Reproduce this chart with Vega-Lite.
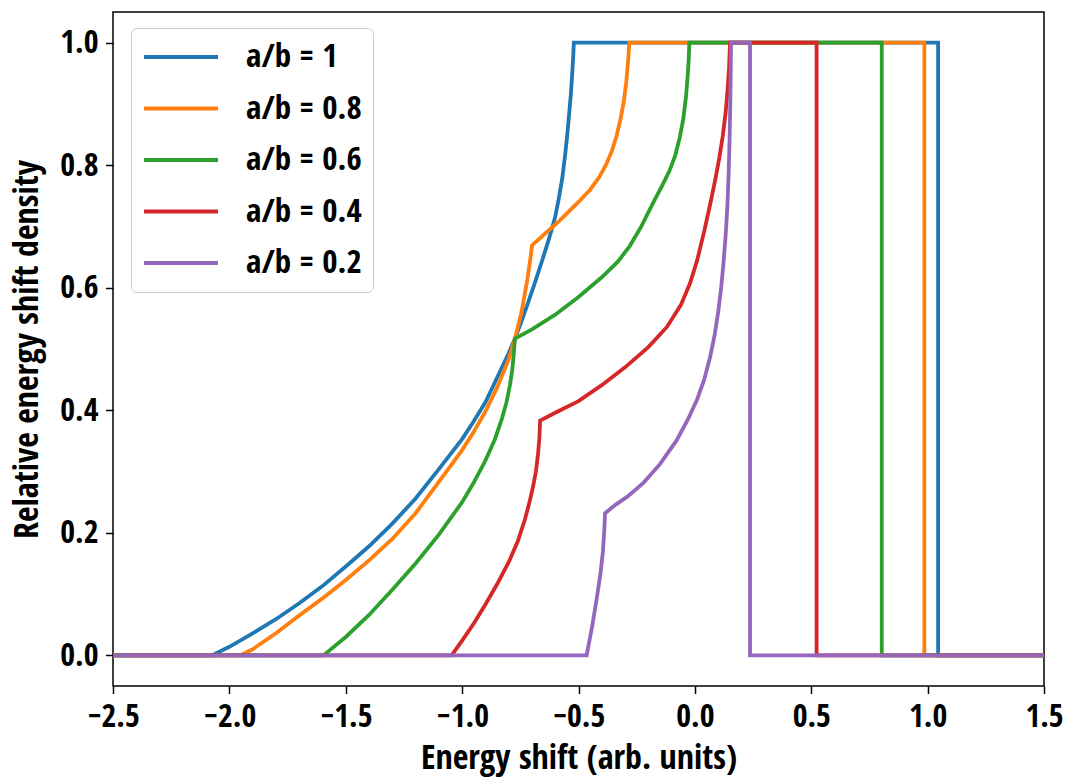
{
  "$schema": "https://vega.github.io/schema/vega-lite/v6.json",
  "width": 931,
  "height": 674,
  "autosize": {"type": "none"},
  "padding": {"left": 113, "top": 12, "right": 23, "bottom": 94},
  "background": "white",
  "config": {
    "font": "'Open Sans Condensed', 'DejaVu Sans Condensed', 'Open Sans', sans-serif",
    "view": {"stroke": "black", "strokeWidth": 1.5},
    "axis": {
      "domain": false,
      "grid": false,
      "tickColor": "black",
      "tickSize": 7.5,
      "tickWidth": 1.5,
      "labelPadding": 7.5,
      "labelFontSize": 32,
      "labelFontWeight": "bold",
      "labelColor": "black",
      "titleFontSize": 34,
      "titleFontWeight": "bold",
      "titleColor": "black",
      "labelFlush": false,
      "labelOverlap": false,
      "format": ".1f"
    }
  },
  "data": {"values": [
    {"s":"a/b = 1","i":0,"x":-2.5,"y":0},
    {"s":"a/b = 1","i":1,"x":-2.075,"y":0},
    {"s":"a/b = 1","i":2,"x":-2.0,"y":0.014},
    {"s":"a/b = 1","i":3,"x":-1.9,"y":0.036},
    {"s":"a/b = 1","i":4,"x":-1.8,"y":0.059},
    {"s":"a/b = 1","i":5,"x":-1.7,"y":0.085},
    {"s":"a/b = 1","i":6,"x":-1.6,"y":0.113},
    {"s":"a/b = 1","i":7,"x":-1.5,"y":0.145},
    {"s":"a/b = 1","i":8,"x":-1.4,"y":0.178},
    {"s":"a/b = 1","i":9,"x":-1.3,"y":0.215},
    {"s":"a/b = 1","i":10,"x":-1.2,"y":0.256},
    {"s":"a/b = 1","i":11,"x":-1.1,"y":0.304},
    {"s":"a/b = 1","i":12,"x":-1.0,"y":0.353},
    {"s":"a/b = 1","i":13,"x":-0.95,"y":0.382},
    {"s":"a/b = 1","i":14,"x":-0.9,"y":0.413},
    {"s":"a/b = 1","i":15,"x":-0.85,"y":0.453},
    {"s":"a/b = 1","i":16,"x":-0.8,"y":0.493},
    {"s":"a/b = 1","i":17,"x":-0.773,"y":0.517},
    {"s":"a/b = 1","i":18,"x":-0.75,"y":0.540},
    {"s":"a/b = 1","i":19,"x":-0.72,"y":0.572},
    {"s":"a/b = 1","i":20,"x":-0.69,"y":0.605},
    {"s":"a/b = 1","i":21,"x":-0.66,"y":0.640},
    {"s":"a/b = 1","i":22,"x":-0.635,"y":0.670},
    {"s":"a/b = 1","i":23,"x":-0.615,"y":0.695},
    {"s":"a/b = 1","i":24,"x":-0.6,"y":0.716},
    {"s":"a/b = 1","i":25,"x":-0.585,"y":0.745},
    {"s":"a/b = 1","i":26,"x":-0.57,"y":0.778},
    {"s":"a/b = 1","i":27,"x":-0.558,"y":0.815},
    {"s":"a/b = 1","i":28,"x":-0.548,"y":0.850},
    {"s":"a/b = 1","i":29,"x":-0.54,"y":0.885},
    {"s":"a/b = 1","i":30,"x":-0.533,"y":0.915},
    {"s":"a/b = 1","i":31,"x":-0.527,"y":0.950},
    {"s":"a/b = 1","i":32,"x":-0.523,"y":0.975},
    {"s":"a/b = 1","i":33,"x":-0.52,"y":1.0},
    {"s":"a/b = 1","i":34,"x":1.045,"y":1.0},
    {"s":"a/b = 1","i":35,"x":1.045,"y":0},
    {"s":"a/b = 1","i":36,"x":1.5,"y":0},

    {"s":"a/b = 0.8","i":0,"x":-2.5,"y":0},
    {"s":"a/b = 0.8","i":1,"x":-1.954,"y":0},
    {"s":"a/b = 0.8","i":2,"x":-1.9,"y":0.010},
    {"s":"a/b = 0.8","i":3,"x":-1.8,"y":0.036},
    {"s":"a/b = 0.8","i":4,"x":-1.7,"y":0.065},
    {"s":"a/b = 0.8","i":5,"x":-1.6,"y":0.093},
    {"s":"a/b = 0.8","i":6,"x":-1.5,"y":0.123},
    {"s":"a/b = 0.8","i":7,"x":-1.4,"y":0.155},
    {"s":"a/b = 0.8","i":8,"x":-1.3,"y":0.190},
    {"s":"a/b = 0.8","i":9,"x":-1.2,"y":0.232},
    {"s":"a/b = 0.8","i":10,"x":-1.1,"y":0.283},
    {"s":"a/b = 0.8","i":11,"x":-1.0,"y":0.335},
    {"s":"a/b = 0.8","i":12,"x":-0.95,"y":0.365},
    {"s":"a/b = 0.8","i":13,"x":-0.9,"y":0.398},
    {"s":"a/b = 0.8","i":14,"x":-0.85,"y":0.437},
    {"s":"a/b = 0.8","i":15,"x":-0.8,"y":0.483},
    {"s":"a/b = 0.8","i":16,"x":-0.773,"y":0.517},
    {"s":"a/b = 0.8","i":17,"x":-0.745,"y":0.560},
    {"s":"a/b = 0.8","i":18,"x":-0.72,"y":0.613},
    {"s":"a/b = 0.8","i":19,"x":-0.705,"y":0.652},
    {"s":"a/b = 0.8","i":20,"x":-0.7,"y":0.669},
    {"s":"a/b = 0.8","i":21,"x":-0.65,"y":0.686},
    {"s":"a/b = 0.8","i":22,"x":-0.58,"y":0.710},
    {"s":"a/b = 0.8","i":23,"x":-0.5,"y":0.740},
    {"s":"a/b = 0.8","i":24,"x":-0.45,"y":0.760},
    {"s":"a/b = 0.8","i":25,"x":-0.41,"y":0.781},
    {"s":"a/b = 0.8","i":26,"x":-0.38,"y":0.802},
    {"s":"a/b = 0.8","i":27,"x":-0.355,"y":0.825},
    {"s":"a/b = 0.8","i":28,"x":-0.335,"y":0.850},
    {"s":"a/b = 0.8","i":29,"x":-0.318,"y":0.878},
    {"s":"a/b = 0.8","i":30,"x":-0.305,"y":0.905},
    {"s":"a/b = 0.8","i":31,"x":-0.295,"y":0.935},
    {"s":"a/b = 0.8","i":32,"x":-0.288,"y":0.965},
    {"s":"a/b = 0.8","i":33,"x":-0.284,"y":0.985},
    {"s":"a/b = 0.8","i":34,"x":-0.282,"y":1.0},
    {"s":"a/b = 0.8","i":35,"x":0.986,"y":1.0},
    {"s":"a/b = 0.8","i":36,"x":0.986,"y":0},
    {"s":"a/b = 0.8","i":37,"x":1.5,"y":0},

    {"s":"a/b = 0.6","i":0,"x":-2.5,"y":0},
    {"s":"a/b = 0.6","i":1,"x":-1.596,"y":0},
    {"s":"a/b = 0.6","i":2,"x":-1.5,"y":0.030},
    {"s":"a/b = 0.6","i":3,"x":-1.4,"y":0.066},
    {"s":"a/b = 0.6","i":4,"x":-1.3,"y":0.107},
    {"s":"a/b = 0.6","i":5,"x":-1.2,"y":0.150},
    {"s":"a/b = 0.6","i":6,"x":-1.1,"y":0.197},
    {"s":"a/b = 0.6","i":7,"x":-1.0,"y":0.250},
    {"s":"a/b = 0.6","i":8,"x":-0.95,"y":0.282},
    {"s":"a/b = 0.6","i":9,"x":-0.9,"y":0.318},
    {"s":"a/b = 0.6","i":10,"x":-0.86,"y":0.352},
    {"s":"a/b = 0.6","i":11,"x":-0.83,"y":0.385},
    {"s":"a/b = 0.6","i":12,"x":-0.81,"y":0.412},
    {"s":"a/b = 0.6","i":13,"x":-0.795,"y":0.440},
    {"s":"a/b = 0.6","i":14,"x":-0.785,"y":0.465},
    {"s":"a/b = 0.6","i":15,"x":-0.778,"y":0.492},
    {"s":"a/b = 0.6","i":16,"x":-0.773,"y":0.517},
    {"s":"a/b = 0.6","i":17,"x":-0.7,"y":0.532},
    {"s":"a/b = 0.6","i":18,"x":-0.6,"y":0.556},
    {"s":"a/b = 0.6","i":19,"x":-0.5,"y":0.585},
    {"s":"a/b = 0.6","i":20,"x":-0.4,"y":0.617},
    {"s":"a/b = 0.6","i":21,"x":-0.33,"y":0.643},
    {"s":"a/b = 0.6","i":22,"x":-0.28,"y":0.668},
    {"s":"a/b = 0.6","i":23,"x":-0.23,"y":0.700},
    {"s":"a/b = 0.6","i":24,"x":-0.18,"y":0.738},
    {"s":"a/b = 0.6","i":25,"x":-0.14,"y":0.767},
    {"s":"a/b = 0.6","i":26,"x":-0.11,"y":0.790},
    {"s":"a/b = 0.6","i":27,"x":-0.085,"y":0.815},
    {"s":"a/b = 0.6","i":28,"x":-0.065,"y":0.845},
    {"s":"a/b = 0.6","i":29,"x":-0.05,"y":0.875},
    {"s":"a/b = 0.6","i":30,"x":-0.038,"y":0.912},
    {"s":"a/b = 0.6","i":31,"x":-0.03,"y":0.950},
    {"s":"a/b = 0.6","i":32,"x":-0.026,"y":0.975},
    {"s":"a/b = 0.6","i":33,"x":-0.024,"y":1.0},
    {"s":"a/b = 0.6","i":34,"x":0.803,"y":1.0},
    {"s":"a/b = 0.6","i":35,"x":0.803,"y":0},
    {"s":"a/b = 0.6","i":36,"x":1.5,"y":0},

    {"s":"a/b = 0.4","i":0,"x":-2.5,"y":0},
    {"s":"a/b = 0.4","i":1,"x":-1.045,"y":0},
    {"s":"a/b = 0.4","i":2,"x":-1.0,"y":0.024},
    {"s":"a/b = 0.4","i":3,"x":-0.95,"y":0.052},
    {"s":"a/b = 0.4","i":4,"x":-0.9,"y":0.083},
    {"s":"a/b = 0.4","i":5,"x":-0.85,"y":0.116},
    {"s":"a/b = 0.4","i":6,"x":-0.8,"y":0.152},
    {"s":"a/b = 0.4","i":7,"x":-0.76,"y":0.187},
    {"s":"a/b = 0.4","i":8,"x":-0.73,"y":0.222},
    {"s":"a/b = 0.4","i":9,"x":-0.71,"y":0.251},
    {"s":"a/b = 0.4","i":10,"x":-0.695,"y":0.276},
    {"s":"a/b = 0.4","i":11,"x":-0.683,"y":0.300},
    {"s":"a/b = 0.4","i":12,"x":-0.674,"y":0.328},
    {"s":"a/b = 0.4","i":13,"x":-0.668,"y":0.355},
    {"s":"a/b = 0.4","i":14,"x":-0.665,"y":0.383},
    {"s":"a/b = 0.4","i":15,"x":-0.6,"y":0.396},
    {"s":"a/b = 0.4","i":16,"x":-0.5,"y":0.415},
    {"s":"a/b = 0.4","i":17,"x":-0.4,"y":0.441},
    {"s":"a/b = 0.4","i":18,"x":-0.3,"y":0.470},
    {"s":"a/b = 0.4","i":19,"x":-0.2,"y":0.503},
    {"s":"a/b = 0.4","i":20,"x":-0.12,"y":0.536},
    {"s":"a/b = 0.4","i":21,"x":-0.06,"y":0.572},
    {"s":"a/b = 0.4","i":22,"x":-0.02,"y":0.608},
    {"s":"a/b = 0.4","i":23,"x":0.01,"y":0.645},
    {"s":"a/b = 0.4","i":24,"x":0.04,"y":0.692},
    {"s":"a/b = 0.4","i":25,"x":0.065,"y":0.735},
    {"s":"a/b = 0.4","i":26,"x":0.087,"y":0.775},
    {"s":"a/b = 0.4","i":27,"x":0.105,"y":0.812},
    {"s":"a/b = 0.4","i":28,"x":0.12,"y":0.848},
    {"s":"a/b = 0.4","i":29,"x":0.132,"y":0.885},
    {"s":"a/b = 0.4","i":30,"x":0.141,"y":0.925},
    {"s":"a/b = 0.4","i":31,"x":0.147,"y":0.960},
    {"s":"a/b = 0.4","i":32,"x":0.151,"y":1.0},
    {"s":"a/b = 0.4","i":33,"x":0.523,"y":1.0},
    {"s":"a/b = 0.4","i":34,"x":0.523,"y":0},
    {"s":"a/b = 0.4","i":35,"x":1.5,"y":0},

    {"s":"a/b = 0.2","i":0,"x":-2.5,"y":0},
    {"s":"a/b = 0.2","i":1,"x":-0.465,"y":0},
    {"s":"a/b = 0.2","i":2,"x":-0.44,"y":0.050},
    {"s":"a/b = 0.2","i":3,"x":-0.422,"y":0.092},
    {"s":"a/b = 0.2","i":4,"x":-0.405,"y":0.135},
    {"s":"a/b = 0.2","i":5,"x":-0.395,"y":0.170},
    {"s":"a/b = 0.2","i":6,"x":-0.389,"y":0.205},
    {"s":"a/b = 0.2","i":7,"x":-0.386,"y":0.232},
    {"s":"a/b = 0.2","i":8,"x":-0.34,"y":0.246},
    {"s":"a/b = 0.2","i":9,"x":-0.29,"y":0.259},
    {"s":"a/b = 0.2","i":10,"x":-0.22,"y":0.282},
    {"s":"a/b = 0.2","i":11,"x":-0.15,"y":0.312},
    {"s":"a/b = 0.2","i":12,"x":-0.08,"y":0.350},
    {"s":"a/b = 0.2","i":13,"x":-0.03,"y":0.385},
    {"s":"a/b = 0.2","i":14,"x":0.01,"y":0.418},
    {"s":"a/b = 0.2","i":15,"x":0.04,"y":0.450},
    {"s":"a/b = 0.2","i":16,"x":0.065,"y":0.486},
    {"s":"a/b = 0.2","i":17,"x":0.085,"y":0.523},
    {"s":"a/b = 0.2","i":18,"x":0.1,"y":0.560},
    {"s":"a/b = 0.2","i":19,"x":0.113,"y":0.600},
    {"s":"a/b = 0.2","i":20,"x":0.124,"y":0.645},
    {"s":"a/b = 0.2","i":21,"x":0.133,"y":0.690},
    {"s":"a/b = 0.2","i":22,"x":0.14,"y":0.735},
    {"s":"a/b = 0.2","i":23,"x":0.145,"y":0.785},
    {"s":"a/b = 0.2","i":24,"x":0.149,"y":0.840},
    {"s":"a/b = 0.2","i":25,"x":0.152,"y":0.900},
    {"s":"a/b = 0.2","i":26,"x":0.154,"y":0.950},
    {"s":"a/b = 0.2","i":27,"x":0.155,"y":1.0},
    {"s":"a/b = 0.2","i":28,"x":0.237,"y":1.0},
    {"s":"a/b = 0.2","i":29,"x":0.237,"y":0},
    {"s":"a/b = 0.2","i":30,"x":1.5,"y":0}
  ]},
  "mark": {"type": "line", "strokeWidth": 3.8, "clip": true},
  "encoding": {
    "x": {
      "field": "x",
      "type": "quantitative",
      "scale": {"domain": [-2.5, 1.5], "nice": false, "zero": false},
      "axis": {
        "values": [-2.5, -2, -1.5, -1, -0.5, 0, 0.5, 1, 1.5],
        "title": "Energy shift (arb. units)",
        "titlePadding": 9
      }
    },
    "y": {
      "field": "y",
      "type": "quantitative",
      "scale": {"domain": [-0.05, 1.05], "nice": false, "zero": false},
      "axis": {
        "values": [0, 0.2, 0.4, 0.6, 0.8, 1.0],
        "title": "Relative energy shift density",
        "titlePadding": 15
      }
    },
    "color": {
      "field": "s",
      "type": "nominal",
      "sort": null,
      "scale": {
        "domain": ["a/b = 1", "a/b = 0.8", "a/b = 0.6", "a/b = 0.4", "a/b = 0.2"],
        "range": ["#1f77b4", "#ff7f0e", "#2ca02c", "#d62728", "#9467bd"]
      },
      "legend": {
        "title": null,
        "orient": "none",
        "legendX": 18,
        "legendY": 16,
        "symbolType": "stroke",
        "symbolSize": 5476,
        "symbolStrokeWidth": 3.8,
        "labelFontSize": 33,
        "labelFontWeight": "bold",
        "labelColor": "black",
        "labelOffset": 26,
        "clipHeight": 36,
        "rowPadding": 15.5,
        "padding": 11,
        "fillColor": "rgba(255,255,255,0.8)",
        "strokeColor": "#cccccc",
        "cornerRadius": 6
      }
    },
    "order": {"field": "i", "type": "quantitative"}
  }
}
